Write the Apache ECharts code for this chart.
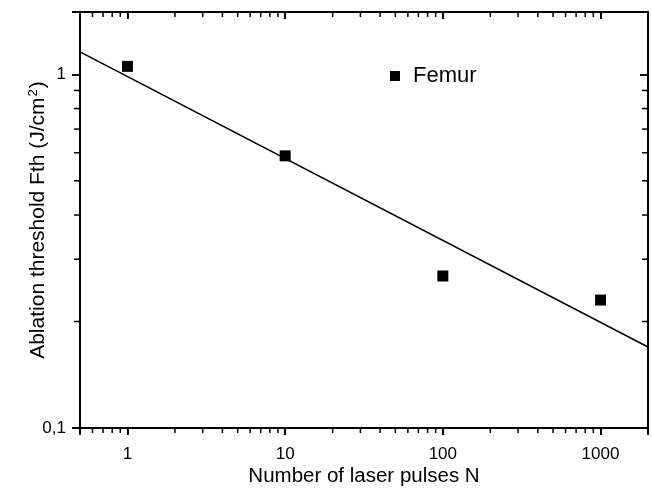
<!DOCTYPE html>
<html>
<head>
<meta charset="utf-8">
<script src="https://cdn.jsdelivr.net/npm/echarts@6/dist/echarts.min.js"></script>
<style>
html,body{margin:0;padding:0;background:#fff;}
#c{width:652px;height:492px;}
</style>
</head>
<body>
<div id="c"></div>
<script>
// ---- data ----
var pulsesN = [1, 10, 100, 1000];
var femurFth = [1.053, 0.588, 0.269, 0.230];
var fitX = [0.5, 2000];
var fitY = [1.157, 0.1695];
var xRange = [0.5, 2000];
var yRange = [0.1, 1.5];
var minorXTicks = [0.6, 0.7, 0.8, 0.9, 2, 3, 4, 5, 6, 7, 8, 9, 20, 30, 40, 50, 60, 70, 80, 90, 200, 300, 400, 500, 600, 700, 800, 900];
var minorYTicks = [0.2, 0.3, 0.4, 0.5, 0.6, 0.7, 0.8, 0.9];

var FONT = '"Liberation Sans", Arial, Helvetica, sans-serif';

function isDecade(v) {
  var l = Math.log10(v);
  return Math.abs(l - Math.round(l)) < 1e-6;
}
function fmt(v) {
  if (!isDecade(v)) return '';
  return String(+v.toPrecision(6)).replace('.', ',');
}

var chart = echarts.init(document.getElementById('c'), null, {renderer: 'canvas'});

var axisLine = {show: true, onZero: false, lineStyle: {color: '#000', width: 2}};

var option = {
  animation: false,
  backgroundColor: '#fff',
  grid: {left: 80, right: 4, top: 12, bottom: 63, containLabel: false},
  legend: {
    data: ['Femur'],
    left: 385, top: 60,
    icon: 'rect', itemWidth: 10, itemHeight: 10,
    itemStyle: {opacity: 1},
    textStyle: {fontFamily: FONT, fontSize: 22, color: '#000', padding: [0, 0, 0, 8]}
  },
  xAxis: [{
    type: 'log', logBase: 10, min: xRange[0], max: xRange[1], position: 'bottom',
    axisLine: axisLine,
    axisTick: {show: true, inside: false, length: 7, lineStyle: {color: '#000', width: 2}},
    axisLabel: {show: true, formatter: fmt, margin: 18, fontFamily: FONT, fontSize: 17, color: '#000', showMinLabel: true, showMaxLabel: true},
    splitLine: {show: false},
    name: 'Number of laser pulses N', nameLocation: 'middle', nameGap: 38, nameMoveOverlap: false,
    nameTextStyle: {fontFamily: FONT, fontSize: 20.5, color: '#000'}
  }, {
    type: 'log', logBase: 10, min: xRange[0], max: xRange[1], position: 'top',
    axisLine: axisLine,
    axisTick: {show: true, inside: true, length: 7, lineStyle: {color: '#000', width: 2}},
    axisLabel: {show: false},
    splitLine: {show: false}
  }],
  yAxis: [{
    type: 'log', logBase: 10, min: yRange[0], max: yRange[1], position: 'left',
    axisLine: axisLine,
    axisTick: {show: true, inside: false, length: 8, lineStyle: {color: '#000', width: 2}},
    axisLabel: {show: true, formatter: fmt, margin: 14, fontFamily: FONT, fontSize: 17, color: '#000'},
    splitLine: {show: false},
    name: '{a|Ablation threshold Fth (J/cm}{s|2}{a|)}', nameLocation: 'middle', nameGap: 31, nameRotate: 90,
    nameMoveOverlap: false,
    nameTextStyle: {
      fontFamily: FONT, fontSize: 21, color: '#000',
      rich: {
        a: {fontFamily: FONT, fontSize: 21, color: '#000', lineHeight: 22},
        s: {fontFamily: FONT, fontSize: 13, color: '#000', verticalAlign: 'top', lineHeight: 22, padding: [0, 1, 8, 1]}
      }
    }
  }, {
    type: 'log', logBase: 10, min: yRange[0], max: yRange[1], position: 'right',
    axisLine: axisLine,
    axisTick: {show: true, inside: true, length: 8, lineStyle: {color: '#000', width: 2}},
    axisLabel: {show: false},
    splitLine: {show: false}
  }],
  series: [
    {
      name: 'fit', type: 'line', xAxisIndex: 0, yAxisIndex: 0,
      data: fitX.map(function (x, i) { return [x, fitY[i]]; }),
      symbol: 'none', lineStyle: {color: '#000', width: 1.6}, clip: true, z: 2
    },
    {
      name: 'Femur', type: 'scatter', xAxisIndex: 0, yAxisIndex: 0,
      data: pulsesN.map(function (x, i) { return [x, femurFth[i]]; }),
      symbol: 'rect', symbolSize: 11, itemStyle: {color: '#000', opacity: 1}, z: 3
    },
    {
      name: 'minorX', type: 'custom', xAxisIndex: 0, yAxisIndex: 0,
      data: minorXTicks.map(function (v) { return [v, yRange[0]]; }),
      silent: true, clip: false,
      renderItem: function (params, api) {
        var v = api.value(0);
        var b = api.coord([v, yRange[0]]);
        var t = api.coord([v, yRange[1]]);
        var st = {stroke: '#000', lineWidth: 1.5};
        return {type: 'group', children: [
          {type: 'line', shape: {x1: b[0], y1: b[1], x2: b[0], y2: b[1] + 5}, style: st},
          {type: 'line', shape: {x1: t[0], y1: t[1], x2: t[0], y2: t[1] + 5}, style: st}
        ]};
      }
    },
    {
      name: 'minorY', type: 'custom', xAxisIndex: 0, yAxisIndex: 0,
      data: minorYTicks.map(function (v) { return [xRange[0], v]; }),
      silent: true, clip: false,
      renderItem: function (params, api) {
        var v = api.value(1);
        var l = api.coord([xRange[0], v]);
        var r = api.coord([xRange[1], v]);
        var st = {stroke: '#000', lineWidth: 1.5};
        return {type: 'group', children: [
          {type: 'line', shape: {x1: l[0] - 6, y1: l[1], x2: l[0], y2: l[1]}, style: st},
          {type: 'line', shape: {x1: r[0] - 6, y1: r[1], x2: r[0], y2: r[1]}, style: st}
        ]};
      }
    }
  ]
};
chart.setOption(option);
</script>
</body>
</html>
